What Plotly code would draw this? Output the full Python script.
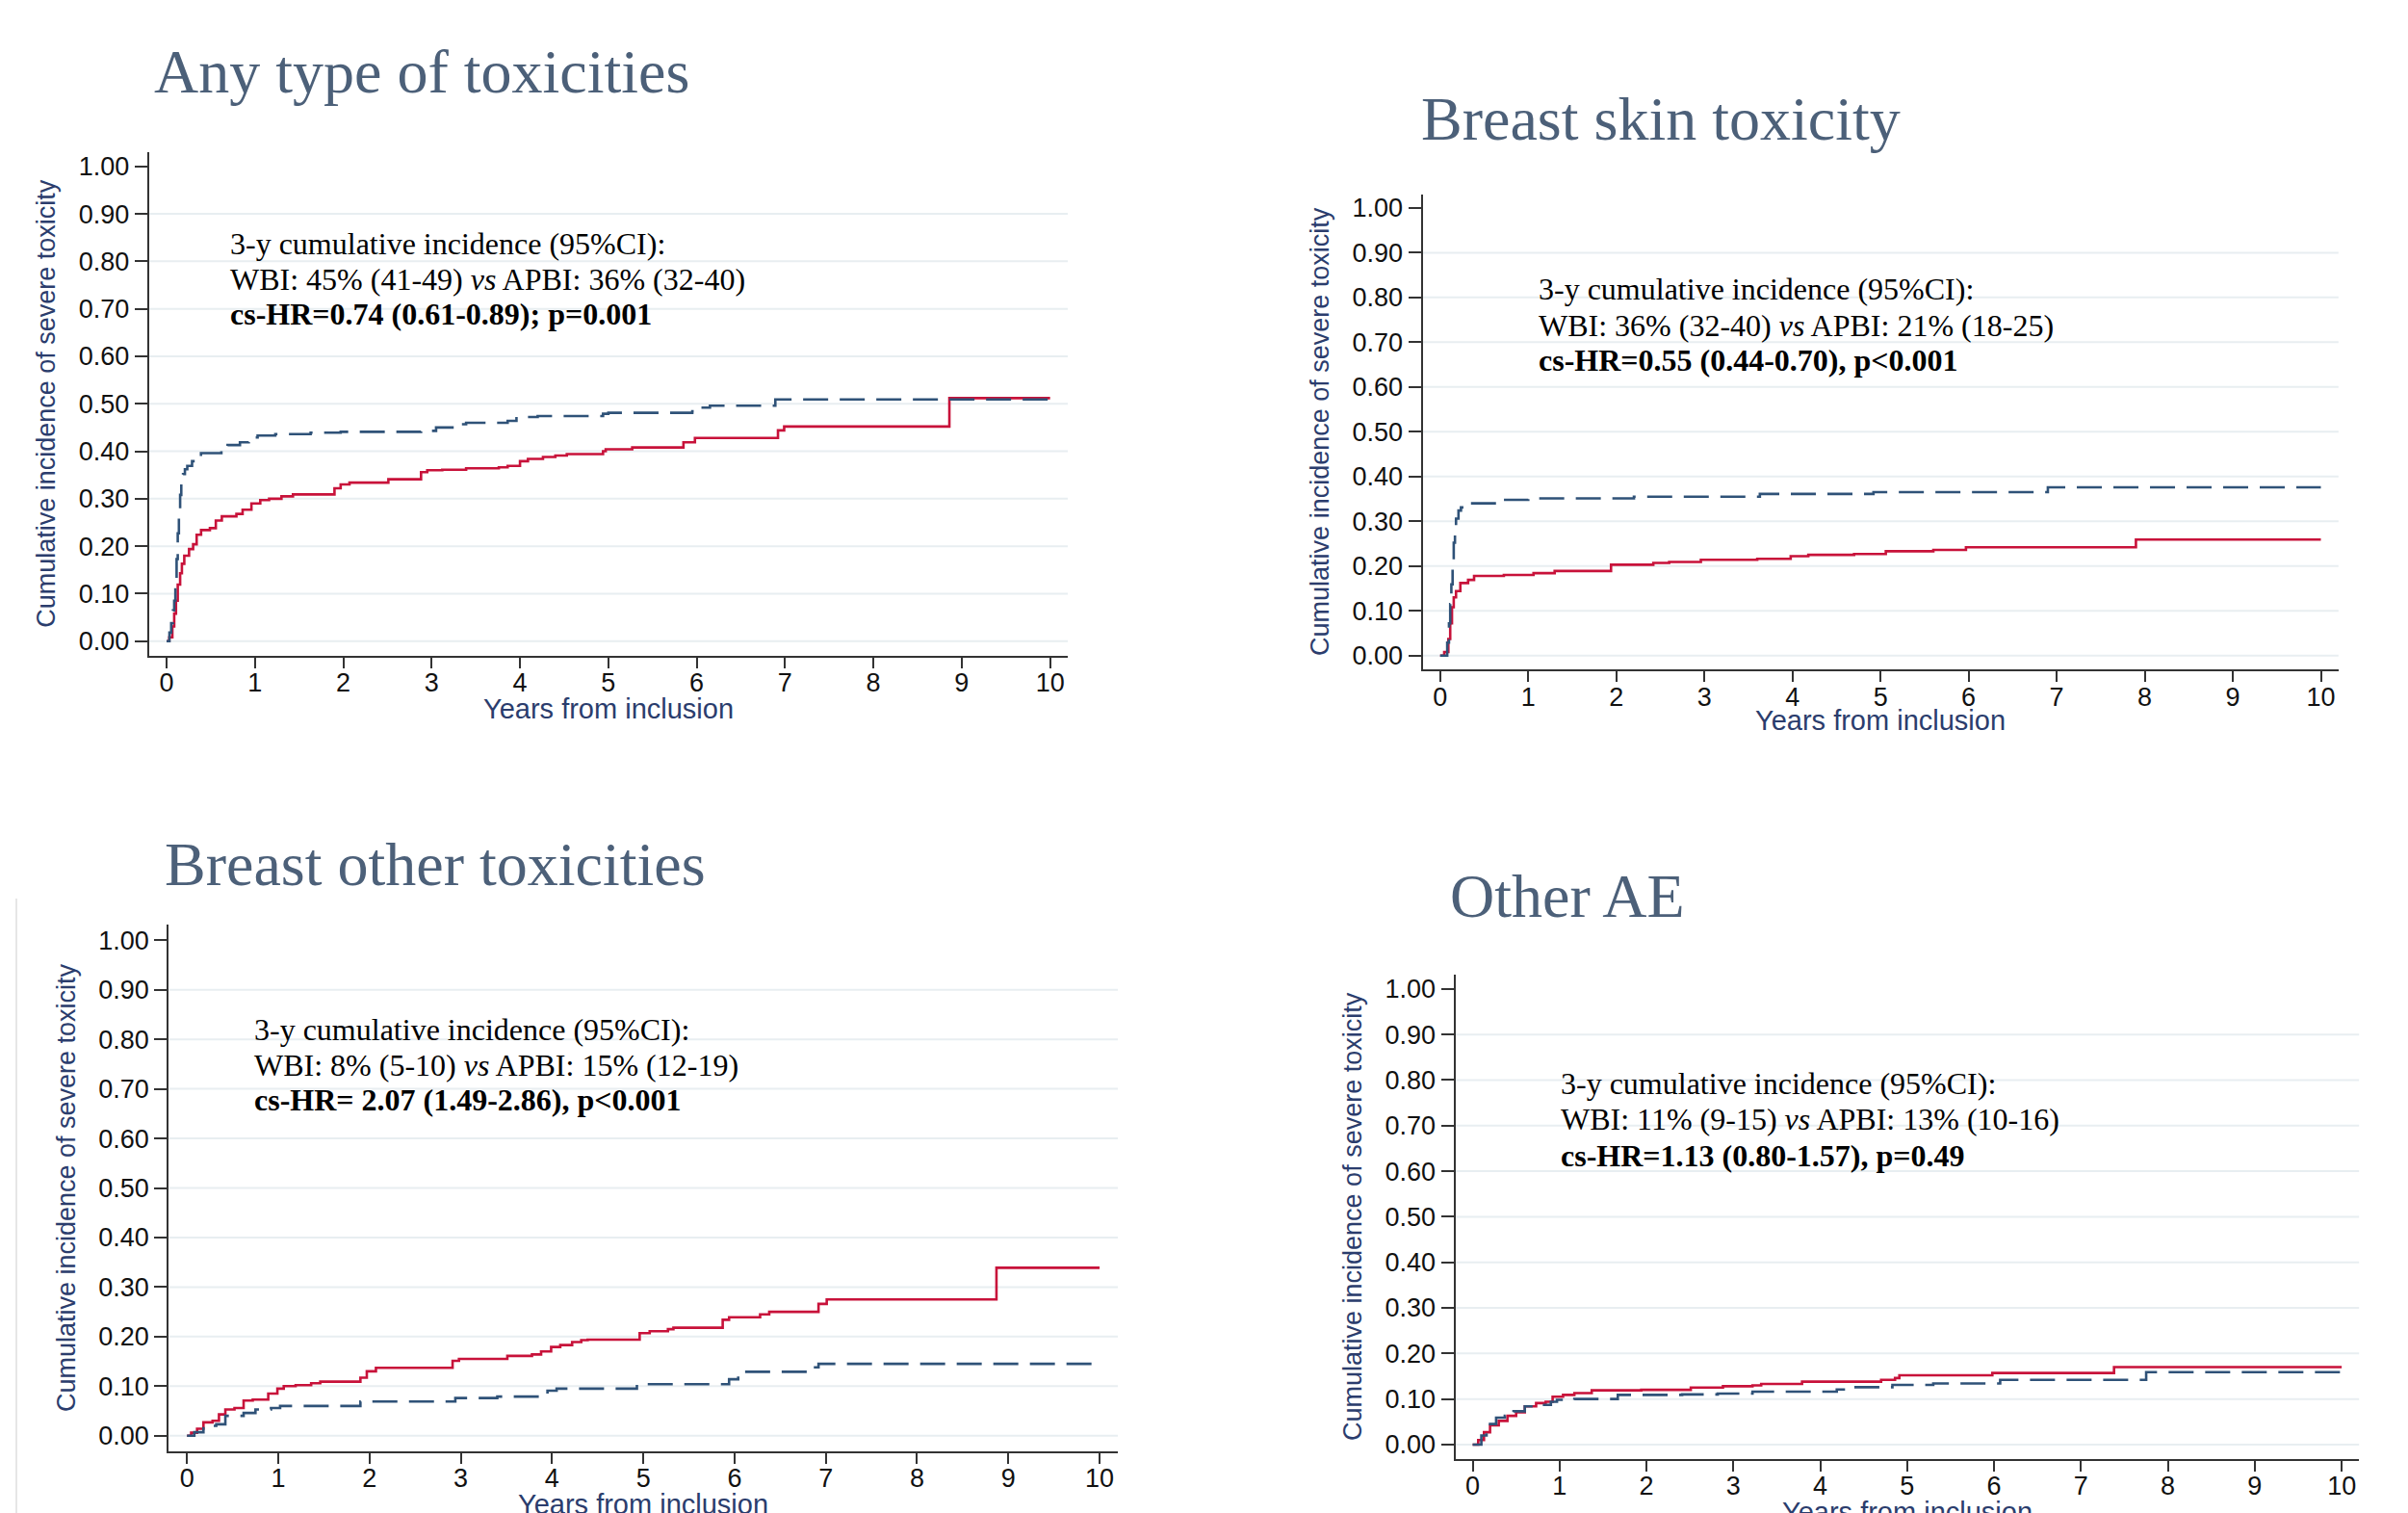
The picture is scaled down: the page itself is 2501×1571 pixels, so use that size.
import plotly.graph_objects as go

# ----------------------------- data -----------------------------
X_TICKS = list(range(0, 11))
Y_TICKS = [0.0, 0.1, 0.2, 0.3, 0.4, 0.5, 0.6, 0.7, 0.8, 0.9, 1.0]
GRID_Y = [0.0, 0.1, 0.2, 0.3, 0.4, 0.5, 0.6, 0.7, 0.8, 0.9]

TITLES = ["Any type of toxicities", "Breast skin toxicity",
          "Breast other toxicities", "Other AE"]
X_TITLE = "Years from inclusion"
Y_TITLE = "Cumulative incidence of severe toxicity"

STAT_HEAD = "3-y cumulative incidence (95%CI):"
STAT_CI = ["WBI: 45% (41-49) <i>vs</i> APBI: 36% (32-40)",
           "WBI: 36% (32-40) <i>vs</i> APBI: 21% (18-25)",
           "WBI: 8% (5-10) <i>vs</i> APBI: 15% (12-19)",
           "WBI: 11% (9-15) <i>vs</i> APBI: 13% (10-16)"]
STAT_HR = ["<b>cs-HR=0.74 (0.61-0.89); p=0.001</b>",
           "<b>cs-HR=0.55 (0.44-0.70), p<0.001</b>",
           "<b>cs-HR= 2.07 (1.49-2.86), p<0.001</b>",
           "<b>cs-HR=1.13 (0.80-1.57), p=0.49</b>"]

# Panel 1: any type of toxicities
any_wbi_t = [0, 0.032, 0.052, 0.072, 0.086, 0.099, 0.113, 0.126, 0.139, 0.153, 0.166, 0.186,
             0.207, 0.234, 0.288, 0.342, 0.389, 0.62, 0.69, 0.83, 0.93, 1.03, 1.23, 1.63, 1.97,
             2.88, 3.05, 3.25, 3.39, 3.86, 3.96, 4.2, 4.94, 5.0, 5.95, 6.05, 6.15, 6.89, 10.0]
any_wbi_v = [0, 0.018, 0.038, 0.065, 0.085, 0.133, 0.173, 0.227, 0.275, 0.308, 0.335, 0.352,
             0.362, 0.369, 0.379, 0.389, 0.396, 0.40, 0.413, 0.419, 0.429, 0.433, 0.436, 0.439,
             0.441, 0.443, 0.45, 0.457, 0.46, 0.464, 0.472, 0.474, 0.479, 0.481, 0.484, 0.492,
             0.496, 0.509, 0.509]
any_apbi_t = [0, 0.03, 0.065, 0.086, 0.106, 0.126, 0.153, 0.173, 0.2, 0.254, 0.3, 0.34, 0.39,
              0.49, 0.557, 0.625, 0.79, 0.86, 0.96, 1.06, 1.16, 1.3, 1.43, 1.9, 1.97, 2.07,
              2.51, 2.88, 2.95, 3.12, 3.39, 3.76, 3.86, 4.0, 4.09, 4.26, 4.4, 4.53, 4.94, 4.97,
              5.27, 5.85, 5.98, 6.92, 6.99, 8.86, 10.0]
any_apbi_v = [0, 0.008, 0.031, 0.058, 0.085, 0.119, 0.143, 0.163, 0.18, 0.194, 0.204, 0.224,
              0.234, 0.238, 0.254, 0.263, 0.268, 0.277, 0.29, 0.297, 0.30, 0.305, 0.309, 0.322,
              0.33, 0.334, 0.341, 0.356, 0.36, 0.361, 0.364, 0.366, 0.369, 0.379, 0.384, 0.388,
              0.391, 0.394, 0.40, 0.404, 0.408, 0.419, 0.428, 0.444, 0.452, 0.512, 0.512]

# Panel 2: breast skin toxicity
skin_wbi_t = [0, 0.08, 0.10, 0.114, 0.127, 0.141, 0.154, 0.168, 0.18, 0.208, 0.236, 0.317,
              0.655, 1.0, 2.2, 3.63, 4.92, 6.9, 10.0]
skin_wbi_v = [0, 0.029, 0.072, 0.115, 0.159, 0.209, 0.252, 0.288, 0.306, 0.324, 0.331, 0.34,
              0.348, 0.351, 0.355, 0.361, 0.365, 0.376, 0.376]
skin_apbi_t = [0, 0.046, 0.093, 0.114, 0.134, 0.154, 0.18, 0.229, 0.317, 0.385, 0.723, 1.06,
               1.3, 1.94, 2.42, 2.6, 2.96, 3.6, 3.98, 4.18, 4.7, 5.06, 5.6, 5.97, 7.9, 10.0]
skin_apbi_v = [0, 0.008, 0.037, 0.072, 0.108, 0.13, 0.144, 0.162, 0.169, 0.178, 0.18, 0.184,
               0.189, 0.203, 0.207, 0.209, 0.214, 0.216, 0.222, 0.225, 0.227, 0.233, 0.236,
               0.242, 0.259, 0.259]

# Panel 3: breast other toxicities
other_wbi_t = [0, 0.08, 0.18, 0.32, 0.42, 0.62, 0.75, 0.92, 1.02, 1.9, 2.94, 3.4, 3.95, 4.05,
               4.93, 5.94, 6.04, 6.85, 6.92, 10.0]
other_wbi_v = [0, 0.007, 0.02, 0.023, 0.04, 0.046, 0.053, 0.056, 0.06, 0.069, 0.076, 0.079,
               0.091, 0.095, 0.104, 0.114, 0.129, 0.138, 0.145, 0.145]
other_apbi_t = [0, 0.045, 0.11, 0.18, 0.28, 0.35, 0.42, 0.52, 0.62, 0.72, 0.89, 0.99, 1.06,
                1.19, 1.36, 1.46, 1.9, 1.97, 2.07, 2.91, 2.98, 3.51, 3.78, 3.88, 3.99, 4.09,
                4.22, 4.32, 4.39, 4.96, 5.07, 5.27, 5.33, 5.87, 5.94, 6.28, 6.38, 6.92, 7.01,
                8.87, 10.0]
other_apbi_v = [0, 0.006, 0.014, 0.027, 0.03, 0.043, 0.053, 0.056, 0.071, 0.073, 0.085, 0.095,
                0.10, 0.102, 0.106, 0.109, 0.117, 0.13, 0.137, 0.151, 0.155, 0.161, 0.164,
                0.17, 0.179, 0.183, 0.189, 0.193, 0.194, 0.207, 0.211, 0.215, 0.218, 0.234,
                0.239, 0.245, 0.25, 0.266, 0.275, 0.339, 0.339]

# Panel 4: other AE
ae_wbi_t = [0, 0.1, 0.16, 0.27, 0.37, 0.47, 0.6, 0.8, 0.9, 0.97, 1.17, 1.67, 2.41, 2.82, 3.22,
            4.19, 4.29, 4.83, 5.3, 6.07, 7.75, 10.0]
ae_wbi_v = [0, 0.02, 0.045, 0.059, 0.063, 0.073, 0.084, 0.087, 0.094, 0.098, 0.10, 0.109,
            0.11, 0.112, 0.116, 0.121, 0.126, 0.131, 0.134, 0.142, 0.159, 0.159]
ae_apbi_t = [0, 0.064, 0.13, 0.2, 0.3, 0.4, 0.5, 0.6, 0.73, 0.84, 0.92, 1.04, 1.17, 1.37, 1.94,
             2.51, 2.88, 3.22, 3.32, 3.79, 4.7, 4.86, 4.91, 5.98, 7.38, 10.0]
ae_apbi_v = [0, 0.01, 0.027, 0.042, 0.052, 0.063, 0.071, 0.084, 0.091, 0.094, 0.105, 0.109,
             0.113, 0.119, 0.12, 0.125, 0.128, 0.13, 0.133, 0.138, 0.142, 0.146, 0.152, 0.157,
             0.17, 0.17]

SERIES = [
    (any_wbi_t, any_wbi_v, any_apbi_t, any_apbi_v),
    (skin_wbi_t, skin_wbi_v, skin_apbi_t, skin_apbi_v),
    (other_wbi_t, other_wbi_v, other_apbi_t, other_apbi_v),
    (ae_wbi_t, ae_wbi_v, ae_apbi_t, ae_apbi_v),
]

# ----------------------------- style / layout -----------------------------
W, H = 2501, 1571
RED = "#c8123a"
BLUE = "#2f5278"
TITLE_COLOR = "#4c6079"
AXIS_TITLE_COLOR = "#2b3d6d"
GRID_COLOR = "#e8eef1"
AX_COLOR = "#333333"
SERIF = "Liberation Serif, Times New Roman, serif"
SANS = "Liberation Sans, Arial, sans-serif"


def py(px):
    """pixel row from the top -> paper fraction"""
    return 1 - px / H


# pixel boxes of each plot area measured from the top-left: (left, right, top, bottom)
BOXES = [(154.7, 1109.0, 157.5, 681.0),
         (1477.5, 2428.8, 201.5, 695.1),
         (175.3, 1161.0, 960.3, 1506.7),
         (1511.5, 2450.2, 1012.2, 1514.6)]
XTITLE_Y = [736, 748, 1562, 1570]
# title (left px, cap-centre px)
TITLE_POS = [(158, 74.5), (1474, 123.5), (169, 897.5), (1504, 930.5)]
# statistics text (x in years, y of the three lines)
STAT_POS = [(0.70, (0.838, 0.763, 0.690)),
            (1.09, (0.820, 0.738, 0.659)),
            (0.71, (0.820, 0.748, 0.677)),
            (0.99, (0.793, 0.714, 0.635))]
X_RANGE = [-0.2, 10.2]
Y_RANGE = [-0.031, 1.031]

fig = go.Figure()
annotations = []
shapes = []

for i, (box, series) in enumerate(zip(BOXES, SERIES)):
    n = "" if i == 0 else str(i + 1)
    xa, ya = "x" + n, "y" + n
    left, right, top, bottom = box
    wt, wv, at, av = series

    fig.add_trace(go.Scatter(x=at, y=av, mode="lines", line_shape="hv",
                             line=dict(color=RED, width=2.6),
                             xaxis=xa, yaxis=ya, showlegend=False, name="APBI"))
    fig.add_trace(go.Scatter(x=wt, y=wv, mode="lines", line_shape="hv",
                             line=dict(color=BLUE, width=2.6, dash="26px,12px"),
                             xaxis=xa, yaxis=ya, showlegend=False, name="WBI"))

    fig.layout["xaxis" + n] = dict(
        domain=[left / W, right / W], anchor=ya, range=X_RANGE,
        tickmode="array", tickvals=X_TICKS, ticks="outside", ticklen=11, tickwidth=2,
        tickcolor=AX_COLOR, showline=True, linecolor=AX_COLOR, linewidth=2,
        showgrid=False, zeroline=False, ticklabelstandoff=-8, automargin=False,
        tickfont=dict(family=SANS, size=27, color="#111111"),
    )
    fig.layout["yaxis" + n] = dict(
        domain=[py(bottom), py(top)], anchor=xa, range=Y_RANGE,
        tickmode="array", tickvals=Y_TICKS, tickformat=".2f", ticks="outside", ticklen=13,
        tickwidth=2, tickcolor=AX_COLOR, showline=True, linecolor=AX_COLOR, linewidth=2,
        showgrid=False, zeroline=False, automargin=False,
        tickfont=dict(family=SANS, size=27, color="#111111"),
        title=dict(text=Y_TITLE, font=dict(family=SANS, size=27, color=AXIS_TITLE_COLOR),
                   standoff=16),
    )

    for g in GRID_Y:
        shapes.append(dict(type="line", xref=xa + " domain", yref=ya, x0=0, x1=1, y0=g, y1=g,
                           line=dict(color=GRID_COLOR, width=2), layer="below"))

    # x-axis title
    annotations.append(dict(text=X_TITLE, xref="paper", yref="paper",
                            x=(left + right) / 2 / W, y=py(XTITLE_Y[i]),
                            xanchor="center", yanchor="middle", showarrow=False,
                            font=dict(family=SANS, size=29, color=AXIS_TITLE_COLOR)))
    # panel title
    tx, tyc = TITLE_POS[i]
    annotations.append(dict(text=TITLES[i], xref="paper", yref="paper", x=tx / W,
                            y=py(tyc), xanchor="left", yanchor="middle", showarrow=False,
                            font=dict(family=SERIF, size=64, color=TITLE_COLOR)))
    # statistics block
    sx, sys_ = STAT_POS[i]
    for txt, yy in zip([STAT_HEAD, STAT_CI[i], STAT_HR[i]], sys_):
        annotations.append(dict(text=txt, xref=xa, yref=ya, x=sx, y=yy, xanchor="left",
                                yanchor="middle", showarrow=False,
                                font=dict(family=SERIF, size=32, color="#000000")))

# faint frame line at the left of the lower-left panel
shapes.append(dict(type="line", xref="paper", yref="paper", x0=17 / W, x1=17 / W,
                   y0=0, y1=py(933), line=dict(color="#e6e6e6", width=2)))

fig.update_layout(width=W, height=H, margin=dict(l=0, r=0, t=0, b=0, autoexpand=False),
                  paper_bgcolor="white", plot_bgcolor="white",
                  annotations=annotations, shapes=shapes, showlegend=False)

fig.write_html("out.html", config={"displayModeBar": False},
               post_script="document.body.style.margin='0';")
